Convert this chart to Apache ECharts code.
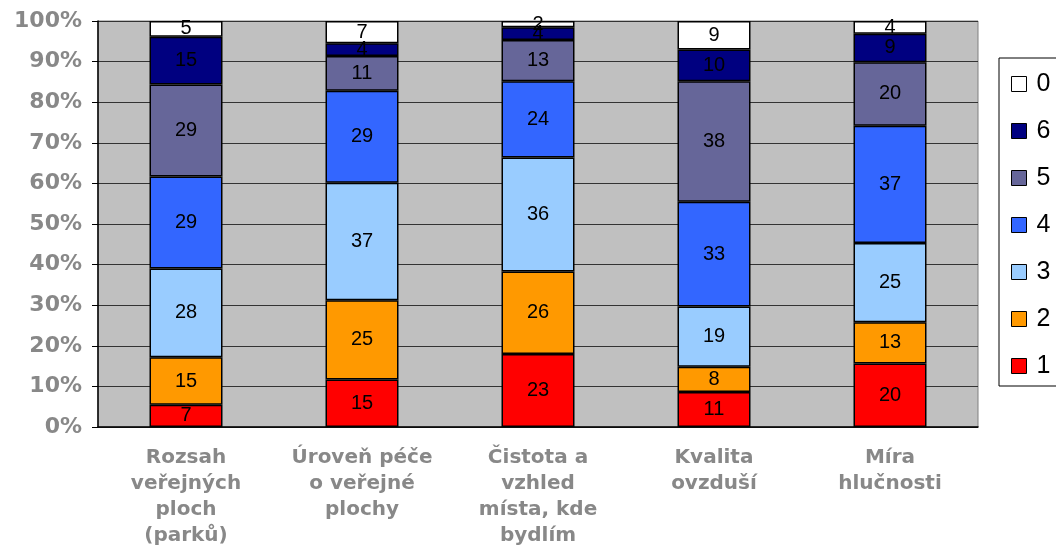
<!DOCTYPE html>
<html>
<head>
<meta charset="utf-8">
<script src="https://cdn.jsdelivr.net/npm/echarts@6/dist/echarts.min.js"></script>
<style>
  html, body { margin: 0; padding: 0; background: #fff; }
  #chart { width: 1056px; height: 549px; }
</style>
</head>
<body>
<div id="chart"></div>
<script>
const categories = [
  'Rozsah\nveřejných\nploch\n(parků)',
  'Úroveň péče\no veřejné\nplochy',
  'Čistota a\nvzhled\nmísta, kde\nbydlím',
  'Kvalita\novzduší',
  'Míra\nhlučnosti'
]
// counts per rating, bottom to top
const r1 = [7, 15, 23, 11, 20]
const r2 = [15, 25, 26, 8, 13]
const r3 = [28, 37, 36, 19, 25]
const r4 = [29, 29, 24, 33, 37]
const r5 = [29, 11, 13, 38, 20]
const r6 = [15, 4, 4, 10, 9]
const r0 = [5, 7, 2, 9, 4]
const seriesNames = ['1', '2', '3', '4', '5', '6', '0']
const legendOrder = ['0', '6', '5', '4', '3', '2', '1']

const rows = [r1, r2, r3, r4, r5, r6, r0]
const colors = ['#FF0000', '#FF9900', '#99CCFF', '#3366FF', '#666699', '#000080', '#FFFFFF']

const totals = categories.map((c, i) => rows.reduce((s, r) => s + r[i], 0))

const myChart = echarts.init(document.getElementById('chart'))
myChart.setOption({
  animation: false,
  backgroundColor: '#fff',
  grid: {
    left: 98,
    right: 78,
    top: 21,
    bottom: 122,
    show: true,
    backgroundColor: '#C0C0C0',
    borderColor: '#808080',
    borderWidth: 1
  },
  legend: {
    orient: 'vertical',
    left: 999,
    top: 58,
    data: legendOrder,
    icon: 'rect',
    itemWidth: 15,
    itemHeight: 15,
    itemGap: 21,
    padding: [13, 40, 7, 12],
    borderColor: '#000',
    borderWidth: 1,
    itemStyle: { borderColor: '#000', borderWidth: 1 },
    textStyle: {
      fontFamily: 'Liberation Sans, Arial, sans-serif',
      fontSize: 25,
      lineHeight: 26,
      color: '#000',
      padding: [0, 0, 0, 5]
    }
  },
  xAxis: {
    type: 'category',
    data: categories,
    axisLine: { lineStyle: { color: '#000', width: 1.5 } },
    axisTick: { length: 5, lineStyle: { color: '#000' } },
    axisLabel: {
      margin: 18,
      interval: 0,
      color: '#888',
      fontWeight: 'bold',
      fontFamily: 'DejaVu Sans, Verdana, sans-serif',
      fontSize: 20,
      lineHeight: 26
    }
  },
  yAxis: {
    type: 'value',
    min: 0,
    max: 100,
    interval: 10,
    axisLine: { show: true, lineStyle: { color: '#000', width: 1.5 } },
    axisTick: { show: true, length: 6, lineStyle: { color: '#000' } },
    splitLine: { lineStyle: { color: '#333', width: 1 } },
    axisLabel: {
      formatter: '{value}%',
      margin: 16,
      color: '#888',
      fontWeight: 'bold',
      fontFamily: 'DejaVu Sans, Verdana, sans-serif',
      fontSize: 22
    }
  },
  series: seriesNames.map((name, k) => ({
    name: name,
    type: 'bar',
    stack: 'total',
    barWidth: 73,
    itemStyle: { color: colors[k], borderColor: '#000', borderWidth: 1.5 },
    label: {
      show: true,
      position: 'inside',
      color: '#000',
      fontFamily: 'Liberation Sans, Arial, sans-serif',
      fontSize: 20,
      formatter: p => p.data.raw
    },
    data: rows[k].map((v, i) => ({ value: v / totals[i] * 100, raw: v }))
  }))
})
</script>
</body>
</html>
